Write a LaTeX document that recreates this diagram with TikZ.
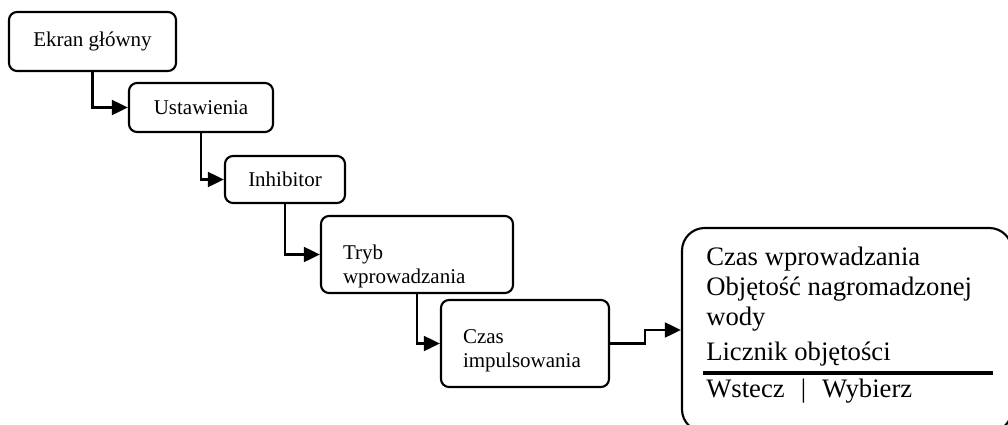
\documentclass[tikz,border=0pt]{standalone}
\usepackage{fontspec}
\setmainfont{Liberation Serif}
\usetikzlibrary{arrows.meta}

\tikzset{
  menubox/.style={draw, line width=1.6pt, rounded corners=6pt, inner sep=0pt,
    font=\fontsize{15.75}{18}\selectfont},
  leftbox/.style={menubox, align=left, inner xsep=16.5pt},
  bigbox/.style={draw, line width=1.6pt, rounded corners=17pt, inner sep=0pt},
  conn/.style={line width=2.1pt, -{Triangle[length=12pt,width=11pt]}},
  menuline/.style={anchor=base west, inner sep=0pt, font=\fontsize{20}{22.5}\selectfont},
}

\begin{document}
\begin{tikzpicture}[x=0.75pt, y=-0.75pt]
  \useasboundingbox (0,0) rectangle (1008,425);
  \clip (0,0) rectangle (1008,425);

  % menu path boxes
  \node[menubox, minimum width=125.25pt, minimum height=44.25pt] (ekran) at (92.5,41.5) {Ekran główny};
  \node[menubox, minimum width=108pt, minimum height=36.75pt] (ust) at (201,107.5) {Ustawienia};
  \node[menubox, minimum width=90pt, minimum height=35.25pt] (inh) at (285,179.5) {Inhibitor};
  \node[leftbox, text width=111pt, minimum height=57.75pt, text depth=4pt] (tryb) at (417,254.5) {Tryb\\wprowadzania};
  \node[leftbox, text width=93pt, minimum height=65.25pt, text depth=10pt] (imp) at (525,343.5) {Czas\\impulsowania};

  % screen with the submenu (runs past the right and bottom edges)
  \node[bigbox, minimum width=247.5pt, minimum height=153pt] (menu) at (847,330) {};
  \node[menuline] (l1) at (706,265) {Czas wprowadzania};
  \node[menuline] (l2) at (706,295) {Objętość nagromadzonej};
  \node[menuline] (l3) at (706,325) {wody};
  \node[menuline] (l4) at (706,360) {Licznik objętości};
  \node[menuline] (l5) at (706,397) {Wstecz\hspace{0.6em}|\hspace{0.6em}Wybierz};
  \coordinate (ruleL) at (703,373);
  \coordinate (ruleR) at (993,373);
  \draw[line width=2.6pt] (ruleL) -- (ruleR);

  % connectors
  \draw[conn] (ekran.south) |- (ust.west);
  \draw[conn] (ust.south) |- (inh.west);
  \draw[conn] (inh.south) |- (tryb.west);
  \draw[conn] (tryb.south) |- (imp.west);
  \coordinate (bend) at (645,330);
  \draw[conn] (imp.east) -- (imp.east -| bend) |- (menu.west |- bend);
\end{tikzpicture}
\end{document}
